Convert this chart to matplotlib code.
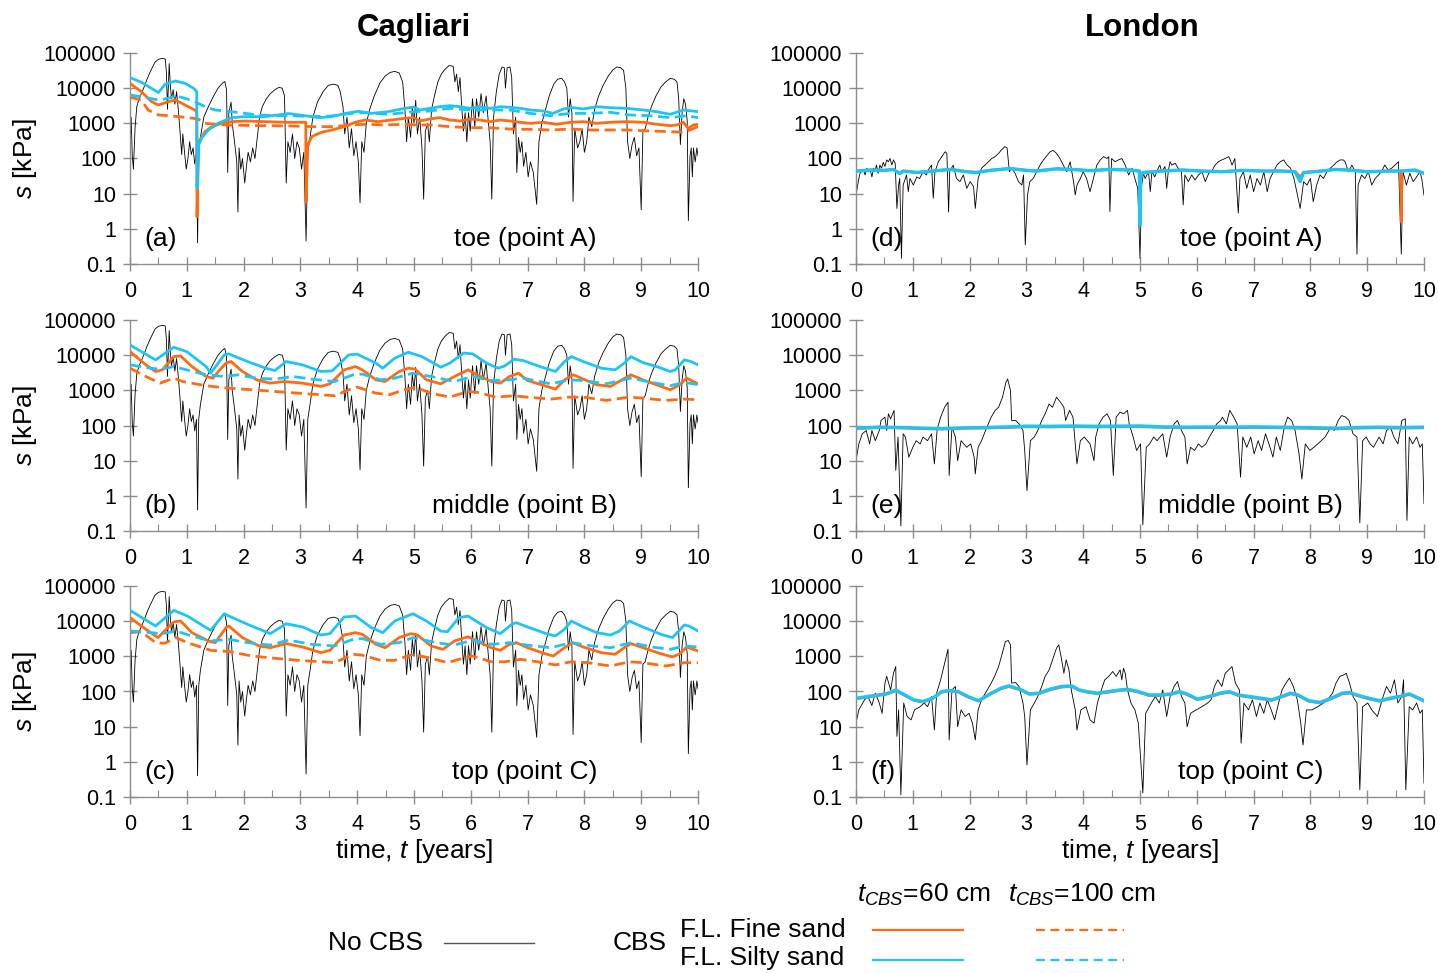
import numpy as np
import matplotlib
matplotlib.use('Agg')
import matplotlib.pyplot as plt
from matplotlib.lines import Line2D
from matplotlib.ticker import LogLocator, NullFormatter

plt.rcParams['font.family'] = ['Liberation Sans', 'DejaVu Sans']
plt.rcParams['mathtext.fontset'] = 'custom'
plt.rcParams['mathtext.it'] = 'Liberation Sans:italic'
plt.rcParams['mathtext.rm'] = 'Liberation Sans'

## ---------------- data (t [years], s [kPa])

# Cagliari, no CBS (same trace in a, b, c)
cag_nocbs = [
    (0.00, 100), (0.02, 1500), (0.04, 120), (0.06, 50), (0.09, 800), (0.12, 3000), (0.16, 5000),
    (0.20, 7000), (0.25, 11000), (0.30, 18000), (0.36, 30000), (0.44, 55000), (0.50, 66000),
    (0.56, 70000), (0.62, 68000), (0.64, 30000), (0.66, 2500), (0.68, 20000), (0.69, 50000),
    (0.71, 12000), (0.73, 5000), (0.76, 9000), (0.79, 3500), (0.82, 8000), (0.85, 2500),
    (0.88, 600), (0.91, 130), (0.93, 500), (0.96, 150), (0.99, 50), (1.02, 100), (1.05, 300),
    (1.08, 130), (1.11, 200), (1.14, 70), (1.17, 150), (1.19, 0.4), (1.21, 150), (1.24, 400),
    (1.30, 1500), (1.38, 3000), (1.46, 5500), (1.55, 10000), (1.63, 14000), (1.67, 15500),
    (1.70, 9000), (1.72, 40), (1.74, 2000), (1.78, 4000), (1.80, 1000), (1.84, 300), (1.88, 80),
    (1.90, 3), (1.92, 200), (1.95, 50), (1.98, 100), (2.02, 20), (2.05, 60), (2.08, 150),
    (2.12, 80), (2.16, 200), (2.20, 100), (2.24, 400), (2.28, 1500), (2.33, 3000), (2.40, 5000),
    (2.47, 7000), (2.55, 9000), (2.62, 10500), (2.68, 10000), (2.72, 6000), (2.75, 20),
    (2.78, 300), (2.82, 150), (2.86, 500), (2.90, 100), (2.94, 300), (2.98, 200), (3.02, 50),
    (3.06, 150), (3.10, 0.45), (3.13, 150), (3.17, 400), (3.22, 1500), (3.30, 4000),
    (3.40, 8000), (3.49, 12000), (3.58, 13000), (3.66, 12000), (3.70, 8000), (3.75, 3000),
    (3.78, 500), (3.82, 1500), (3.86, 200), (3.90, 700), (3.94, 120), (3.98, 300), (4.02, 80),
    (4.05, 5.5), (4.08, 300), (4.12, 150), (4.16, 1000), (4.22, 2500), (4.30, 6000),
    (4.40, 14000), (4.49, 22000), (4.58, 28000), (4.66, 30000), (4.74, 27000), (4.80, 15000),
    (4.84, 2500), (4.87, 300), (4.90, 1500), (4.94, 400), (4.97, 3000), (5.00, 1000),
    (5.03, 4500), (5.06, 500), (5.10, 1500), (5.14, 200), (5.17, 7), (5.20, 600), (5.24, 1000),
    (5.27, 300), (5.31, 2500), (5.36, 6000), (5.42, 15000), (5.48, 25000), (5.55, 35000),
    (5.62, 44000), (5.69, 42000), (5.72, 15000), (5.75, 25000), (5.78, 8000), (5.81, 20000),
    (5.84, 3000), (5.87, 600), (5.90, 2000), (5.93, 300), (5.96, 2000), (5.99, 600),
    (6.03, 5000), (6.07, 800), (6.10, 5000), (6.14, 1500), (6.18, 7000), (6.22, 2000),
    (6.27, 6000), (6.31, 1000), (6.34, 300), (6.37, 7), (6.40, 1500), (6.45, 8000),
    (6.50, 25000), (6.55, 40000), (6.59, 38000), (6.61, 10000), (6.64, 38000), (6.69, 40000),
    (6.72, 20000), (6.75, 500), (6.79, 1500), (6.81, 40), (6.84, 400), (6.87, 150), (6.90, 300),
    (6.93, 60), (6.97, 150), (7.01, 30), (7.05, 80), (7.10, 40), (7.16, 5), (7.20, 300),
    (7.25, 1000), (7.30, 2000), (7.38, 6000), (7.46, 13000), (7.53, 18000), (7.60, 19000),
    (7.65, 15000), (7.69, 10000), (7.72, 1500), (7.75, 5000), (7.78, 2000), (7.80, 6),
    (7.83, 700), (7.88, 200), (7.92, 300), (7.96, 700), (8.00, 150), (8.04, 300), (8.08, 1500),
    (8.13, 800), (8.18, 2500), (8.25, 6000), (8.33, 12000), (8.42, 22000), (8.50, 33000),
    (8.57, 40000), (8.64, 38000), (8.69, 32000), (8.73, 10000), (8.76, 300), (8.80, 100),
    (8.84, 250), (8.88, 400), (8.92, 120), (8.96, 200), (9.00, 3.5), (9.03, 600), (9.07, 700),
    (9.12, 1500), (9.18, 3000), (9.26, 6000), (9.35, 11000), (9.43, 15000), (9.51, 19000),
    (9.58, 18000), (9.63, 15000), (9.66, 5000), (9.69, 250), (9.72, 2000), (9.75, 5000),
    (9.78, 3500), (9.81, 1200), (9.83, 1.7), (9.86, 120), (9.88, 200), (9.90, 30), (9.92, 200),
    (9.95, 80), (9.98, 200), (10.00, 120)]

# (a) Cagliari toe
a_fine60 = [(0, 13700), (0.2, 7950), (0.38, 4130), (0.5, 3320), (0.67, 4130), (0.8, 4600),
            (0.97, 3320), (1.14, 2390), (1.175, 2150), (1.18, 2.2), (1.21, 300), (1.32, 580),
            (1.44, 800), (1.61, 1000), (1.79, 1115), (2.02, 1165), (2.38, 1115), (2.73, 1070),
            (3.095, 1070), (3.10, 5.9), (3.13, 240), (3.2, 420), (3.37, 555), (3.55, 645),
            (3.78, 805), (3.96, 1070), (4.14, 1245), (4.37, 1115), (4.6, 1245), (4.84, 1390),
            (5.0, 1450), (5.1, 1165), (5.28, 1330), (5.45, 1450), (5.63, 1245), (5.81, 1165),
            (5.99, 1330), (6.16, 1245), (6.34, 1115), (6.52, 1245), (6.69, 1165), (6.87, 1070),
            (7.05, 1000), (7.28, 1070), (7.51, 940), (7.75, 1070), (7.98, 1115), (8.22, 1000),
            (8.45, 1070), (8.74, 1115), (9.04, 1070), (9.27, 940), (9.51, 860), (9.63, 900),
            (9.74, 1070), (9.83, 720), (9.92, 900), (10, 940)]
a_fine100 = [(0, 5500), (0.2, 4600), (0.32, 2390), (0.5, 1730), (0.67, 1650), (0.85, 1550),
             (1.03, 1450), (1.2, 1330), (1.32, 1000), (1.67, 900), (2.26, 860), (2.85, 840),
             (3.2, 805), (3.55, 805), (3.9, 900), (4.14, 940), (4.49, 900), (4.84, 940),
             (5.0, 900), (5.28, 900), (5.63, 805), (5.99, 750), (6.34, 750), (6.69, 690),
             (7.05, 675), (7.4, 645), (7.75, 690), (8.1, 645), (8.45, 645), (8.8, 645),
             (9.16, 605), (9.51, 580), (9.74, 555), (9.86, 645), (10, 805)]
a_silty60 = [(0, 20000), (0.2, 14700), (0.35, 10500), (0.5, 7500), (0.62, 13000), (0.8, 16000),
             (0.97, 13700), (1.12, 9900), (1.175, 8000), (1.18, 14), (1.21, 240), (1.26, 380),
             (1.38, 650), (1.55, 1000), (1.79, 1450), (2.02, 1550), (2.38, 1550), (2.79, 1900),
             (3.08, 1650), (3.32, 1450), (3.55, 1550), (3.78, 1900), (4.02, 2200), (4.25, 1920),
             (4.55, 2150), (4.84, 2670), (5.0, 2900), (5.1, 2390), (5.28, 2670), (5.45, 2970),
             (5.63, 3180), (5.81, 2970), (5.99, 2670), (6.16, 2970), (6.34, 2670), (6.52, 2970),
             (6.69, 2850), (6.87, 2670), (7.05, 2390), (7.28, 2240), (7.45, 1920), (7.63, 2560),
             (7.8, 2790), (7.98, 2560), (8.22, 2970), (8.45, 2790), (8.74, 2670), (9.04, 2390),
             (9.27, 2150), (9.51, 1800), (9.74, 2390), (10, 2150)]
a_silty100 = [(0, 6400), (0.2, 5700), (0.5, 4600), (0.67, 5150), (0.8, 6000), (0.97, 5150),
              (1.14, 4130), (1.32, 2980), (1.5, 2390), (1.79, 2150), (2.02, 1920), (2.26, 1730),
              (2.55, 1650), (2.85, 1650), (3.2, 1550), (3.55, 1620), (3.9, 1920), (4.14, 2010),
              (4.55, 1800), (5.0, 2150), (5.28, 2240), (5.63, 2670), (5.99, 2390), (6.34, 2390),
              (6.69, 2390), (7.05, 1920), (7.4, 1650), (7.75, 1920), (8.1, 1920), (8.45, 2060),
              (8.8, 1730), (9.15, 1650), (9.51, 1450), (9.8, 1650), (10, 1450)]

# (b) Cagliari middle
b_fine60 = [(0, 12600), (0.28, 5290), (0.45, 3430), (0.57, 3820), (0.77, 9100), (0.89, 9500),
            (1.09, 4750), (1.34, 2470), (1.46, 2220), (1.58, 3820), (1.7, 6160), (1.78, 6580),
            (1.98, 3430), (2.23, 1990), (2.47, 1600), (2.71, 1780), (3.04, 1600), (3.36, 1290),
            (3.52, 1530), (3.77, 3820), (3.97, 4750), (4.09, 3820), (4.33, 1990), (4.49, 1780),
            (4.74, 3430), (4.9, 4260), (5.02, 3990), (5.22, 1990), (5.47, 1530), (5.71, 2470),
            (5.95, 3820), (6.11, 2760), (6.36, 1780), (6.52, 1600), (6.68, 2470), (6.84, 3070),
            (7.0, 1900), (7.25, 1440), (7.49, 1080), (7.65, 1990), (7.81, 2760), (7.98, 2080),
            (8.22, 1440), (8.46, 1290), (8.66, 1990), (8.82, 2760), (9.03, 1990), (9.27, 1440),
            (9.51, 1035), (9.68, 1440), (9.8, 2220), (10, 1530)]
b_fine100 = [(0, 4260), (0.28, 2470), (0.53, 1600), (0.77, 2220), (0.93, 1780), (1.34, 1350),
             (1.74, 1150), (2.15, 1035), (2.55, 930), (2.96, 830), (3.36, 750), (3.6, 700),
             (3.85, 1035), (4.0, 1230), (4.33, 830), (4.57, 750), (4.82, 1035), (5.02, 1230),
             (5.3, 830), (5.63, 640), (5.95, 930), (6.11, 880), (6.44, 640), (6.76, 700),
             (7.0, 640), (7.41, 563), (7.73, 640), (7.98, 640), (8.38, 517), (8.79, 640),
             (9.03, 600), (9.43, 517), (9.76, 563), (10, 540)]
b_silty60 = [(0, 19500), (0.45, 7340), (0.77, 16800), (1.0, 12600), (1.34, 4750), (1.42, 3070),
             (1.66, 10200), (1.74, 10900), (2.07, 6580), (2.39, 4260), (2.55, 3660), (2.75, 6580),
             (3.04, 5290), (3.36, 3430), (3.56, 3580), (3.85, 10200), (4.0, 10700), (4.33, 5910),
             (4.45, 4260), (4.66, 8190), (4.9, 12100), (5.14, 9100), (5.47, 4550), (5.63, 5910),
             (5.87, 11500), (6.03, 10900), (6.28, 5910), (6.48, 4260), (6.6, 4960), (6.76, 7670),
             (6.92, 7030), (7.25, 4550), (7.49, 3430), (7.65, 6580), (7.77, 9100), (7.98, 6580),
             (8.3, 4260), (8.54, 3820), (8.7, 5910), (8.82, 9100), (9.03, 6160), (9.27, 4750),
             (9.51, 3430), (9.6, 3820), (9.76, 7340), (9.88, 6580), (10, 5290)]
b_silty100 = [(0, 5290), (0.36, 4260), (0.53, 3990), (0.77, 4750), (1.0, 3820), (1.34, 2760),
              (1.66, 2470), (1.9, 2760), (2.23, 2220), (2.55, 2080), (2.87, 2470), (3.2, 2080),
              (3.6, 1780), (3.93, 2760), (4.09, 2900), (4.41, 1990), (4.66, 2220), (4.98, 3070),
              (5.3, 2470), (5.71, 1780), (6.03, 2470), (6.36, 1900), (6.68, 1990), (6.92, 2220),
              (7.41, 1530), (7.73, 1990), (7.98, 1900), (8.38, 1530), (8.82, 2220), (9.11, 1780),
              (9.51, 1350), (9.76, 1700), (10, 1440)]

# (c) Cagliari top
c_fine60 = [(0, 12600), (0.28, 5860), (0.49, 3400), (0.77, 9500), (0.89, 10100), (1.09, 4710),
            (1.38, 2730), (1.5, 2450), (1.7, 6820), (1.74, 7290), (1.98, 3400), (2.27, 1970),
            (2.47, 1760), (2.75, 2300), (3.04, 1840), (3.36, 1270), (3.52, 1480), (3.77, 4040),
            (3.97, 4710), (4.09, 4220), (4.33, 2190), (4.49, 1760), (4.74, 3400), (4.94, 4410),
            (5.06, 4040), (5.3, 1970), (5.51, 1580), (5.71, 2730), (5.95, 3600), (6.11, 2730),
            (6.36, 1760), (6.52, 1480), (6.68, 2190), (6.8, 2450), (7.0, 1760), (7.25, 1270),
            (7.45, 1020), (7.65, 1760), (7.79, 2450), (7.98, 1840), (8.3, 1270), (8.54, 1140),
            (8.7, 1760), (8.82, 2300), (9.03, 1760), (9.35, 1180), (9.55, 960), (9.68, 1180),
            (9.8, 1840), (10, 1420)]
c_fine100 = [(0, 4710), (0.2, 5000), (0.45, 2450), (0.61, 2350), (0.81, 3400), (1.01, 2450),
             (1.42, 1480), (1.74, 1370), (2.15, 1020), (2.55, 880), (2.96, 770), (3.36, 700),
             (3.6, 660), (3.93, 1140), (4.09, 1080), (4.41, 770), (4.66, 770), (4.98, 1140),
             (5.3, 880), (5.59, 660), (5.79, 820), (6.03, 1020), (6.36, 700), (6.6, 700),
             (6.88, 820), (7.17, 700), (7.49, 570), (7.77, 700), (8.06, 660), (8.46, 530),
             (8.79, 700), (9.03, 660), (9.43, 530), (9.76, 660), (10, 660)]
c_silty60 = [(0, 20300), (0.45, 7290), (0.77, 20300), (1.01, 14000), (1.42, 5480), (1.66, 16300),
             (1.74, 14000), (2.07, 8130), (2.47, 4410), (2.75, 8490), (3.04, 6820), (3.36, 4040),
             (3.52, 4410), (3.77, 13100), (3.97, 14000), (4.25, 6530), (4.45, 4710), (4.66, 10100),
             (4.98, 16300), (5.22, 10100), (5.47, 5250), (5.59, 5030), (5.79, 12600), (5.95, 14000),
             (6.28, 6530), (6.52, 4410), (6.72, 8130), (6.8, 9060), (7.0, 6820), (7.33, 4410),
             (7.49, 3790), (7.65, 5860), (7.77, 10100), (7.98, 6820), (8.22, 4710), (8.46, 4040),
             (8.62, 5250), (8.79, 10100), (9.03, 6820), (9.35, 4220), (9.55, 3400), (9.76, 7780),
             (9.84, 7290), (10, 5250)]
c_silty100 = [(0, 5250), (0.36, 4710), (0.57, 4410), (0.81, 5250), (1.09, 3790), (1.42, 2730),
              (1.74, 3040), (2.07, 2450), (2.47, 2080), (2.79, 2900), (3.2, 2190), (3.6, 1970),
              (3.93, 3040), (4.09, 3200), (4.41, 2190), (4.74, 2450), (4.98, 3400), (5.39, 2450),
              (5.71, 2080), (6.03, 2900), (6.36, 2190), (6.68, 2450), (7.0, 2080), (7.41, 1760),
              (7.77, 2450), (8.14, 1970), (8.46, 1760), (8.82, 2450), (9.19, 1840), (9.51, 1580),
              (9.76, 1970), (10, 1840)]

# (d) London toe
d_nocbs = [
    (0.00, 9.2), (0.04, 22), (0.07, 38), (0.13, 47), (0.16, 34), (0.19, 53), (0.22, 42), (0.25, 47),
    (0.28, 30), (0.31, 53), (0.33, 42), (0.36, 65), (0.39, 38), (0.42, 65), (0.45, 53), (0.48, 78),
    (0.51, 59), (0.54, 91), (0.57, 81), (0.60, 100), (0.63, 65), (0.66, 91), (0.69, 73), (0.72, 3.8),
    (0.75, 17.6), (0.77, 27), (0.80, 0.145), (0.83, 17.6), (0.89, 34), (0.92, 11.4), (0.95, 27),
    (1.01, 17.6), (1.07, 30), (1.12, 27), (1.18, 42), (1.24, 34), (1.27, 47), (1.33, 65), (1.36, 7.4),
    (1.39, 42), (1.45, 81), (1.51, 113), (1.57, 156), (1.60, 140), (1.63, 3.0), (1.65, 42),
    (1.71, 65), (1.77, 27), (1.83, 22), (1.89, 34), (1.95, 14.2), (2.01, 22), (2.07, 15.8),
    (2.10, 3.8), (2.15, 27), (2.21, 53), (2.27, 65), (2.33, 81), (2.39, 100), (2.45, 113),
    (2.51, 140), (2.56, 175), (2.62, 217), (2.66, 200), (2.70, 42), (2.74, 53), (2.80, 38),
    (2.86, 22), (2.92, 17.6), (2.95, 34), (2.98, 0.35), (3.02, 9.2), (3.06, 22), (3.12, 27),
    (3.18, 42), (3.24, 65), (3.30, 91), (3.36, 120), (3.42, 156), (3.47, 170), (3.53, 140),
    (3.59, 100), (3.65, 65), (3.71, 42), (3.77, 81), (3.83, 22), (3.86, 9.2), (3.89, 17.6),
    (3.95, 27), (4.00, 42), (4.06, 27), (4.12, 11.4), (4.18, 27), (4.24, 65), (4.30, 91),
    (4.36, 113), (4.42, 100), (4.45, 113), (4.47, 3.1), (4.50, 100), (4.56, 81), (4.62, 91),
    (4.68, 100), (4.74, 65), (4.80, 34), (4.86, 53), (4.91, 27), (4.96, 14.2), (5.00, 0.145),
    (5.03, 17.6), (5.06, 38), (5.09, 27), (5.15, 42), (5.18, 11.4), (5.21, 42), (5.26, 30),
    (5.32, 53), (5.35, 65), (5.38, 42), (5.44, 59), (5.47, 14.2), (5.50, 47), (5.53, 81),
    (5.56, 65), (5.62, 73), (5.67, 53), (5.73, 42), (5.76, 4.8), (5.79, 34), (5.85, 22),
    (5.91, 34), (5.97, 24.5), (6.03, 34), (6.09, 42), (6.15, 22), (6.21, 38), (6.26, 42),
    (6.32, 65), (6.38, 81), (6.44, 91), (6.50, 100), (6.56, 113), (6.58, 100), (6.62, 65),
    (6.67, 100), (6.73, 2.8), (6.76, 27), (6.82, 42), (6.88, 14.2), (6.94, 34), (7.00, 11.4),
    (7.06, 27), (7.12, 17.6), (7.18, 42), (7.24, 11.4), (7.29, 27), (7.35, 42), (7.41, 65),
    (7.47, 81), (7.53, 91), (7.59, 65), (7.65, 53), (7.71, 27), (7.76, 11.4), (7.82, 3.8),
    (7.88, 22), (7.94, 17.6), (8.00, 27), (8.05, 5.9), (8.11, 17.6), (8.17, 34), (8.23, 27),
    (8.29, 42), (8.35, 53), (8.41, 65), (8.46, 78), (8.52, 91), (8.58, 91), (8.61, 81),
    (8.67, 42), (8.73, 65), (8.79, 42), (8.82, 0.19), (8.84, 17.6), (8.90, 34), (8.96, 27),
    (9.02, 42), (9.08, 17.6), (9.14, 27), (9.20, 34), (9.25, 42), (9.31, 65), (9.37, 47),
    (9.43, 53), (9.49, 65), (9.55, 81), (9.60, 0.19), (9.63, 42), (9.69, 17.6), (9.75, 38),
    (9.81, 22), (9.87, 30), (9.93, 42), (9.96, 27), (10.00, 9)]
d_fine = [(0, 44), (0.25, 47), (0.5, 46), (0.66, 49), (0.77, 37), (0.83, 44), (1.07, 40),
          (1.36, 44), (1.66, 49), (1.95, 42), (2.12, 40), (2.36, 46), (2.71, 52), (3.0, 46),
          (3.18, 44), (3.53, 51), (3.88, 48), (4.12, 45), (4.47, 49), (4.82, 47), (4.99, 44),
          (5.0, 30), (5.05, 40), (5.38, 44), (5.74, 47), (6.09, 44), (6.44, 42), (6.79, 46),
          (7.14, 44), (7.49, 44), (7.73, 42), (7.82, 30), (7.88, 40), (8.2, 44), (8.43, 49),
          (8.67, 47), (9.02, 42), (9.37, 44), (9.59, 44), (9.6, 1.6), (9.61, 44), (9.84, 47),
          (10, 38)]
d_silty = [(0, 44), (0.25, 47), (0.5, 46), (0.66, 49), (0.77, 37), (0.83, 44), (1.07, 40),
           (1.36, 44), (1.66, 49), (1.95, 42), (2.12, 40), (2.36, 46), (2.71, 52), (3.0, 46),
           (3.18, 44), (3.53, 51), (3.88, 48), (4.12, 45), (4.47, 49), (4.82, 47), (4.99, 44),
           (5.0, 1.3), (5.01, 30), (5.05, 40), (5.38, 44), (5.74, 47), (6.09, 44), (6.44, 42),
           (6.79, 46), (7.14, 44), (7.49, 44), (7.73, 42), (7.82, 22), (7.88, 40), (8.2, 44),
           (8.43, 49), (8.67, 47), (9.02, 42), (9.37, 44), (9.61, 44), (9.84, 47), (10, 38)]

# (e) London middle
e_nocbs = [
    (0.00, 10), (0.05, 30), (0.11, 58), (0.18, 72), (0.24, 30), (0.28, 72), (0.34, 37), (0.41, 72),
    (0.44, 139), (0.51, 173), (0.54, 72), (0.57, 215), (0.61, 155), (0.67, 270), (0.70, 5.3),
    (0.74, 47), (0.79, 0.14), (0.83, 58), (0.87, 47), (0.93, 12.6), (1.00, 24), (1.06, 37),
    (1.13, 30), (1.18, 47), (1.26, 37), (1.33, 58), (1.38, 8.1), (1.43, 80), (1.49, 173),
    (1.56, 330), (1.62, 460), (1.64, 3.8), (1.69, 90), (1.75, 47), (1.79, 10), (1.85, 37),
    (1.95, 24), (2.02, 30), (2.08, 12.6), (2.10, 4.2), (2.15, 24), (2.21, 37), (2.28, 72),
    (2.38, 173), (2.45, 270), (2.51, 330), (2.58, 640), (2.64, 1700), (2.67, 2100), (2.72, 990),
    (2.74, 139), (2.81, 139), (2.87, 111), (2.94, 72), (2.97, 19.5), (3.01, 1.4), (3.07, 37),
    (3.14, 47), (3.20, 72), (3.27, 139), (3.33, 215), (3.40, 410), (3.46, 330), (3.53, 640),
    (3.60, 460), (3.66, 330), (3.69, 139), (3.76, 270), (3.82, 173), (3.86, 30), (3.89, 8.1),
    (3.95, 37), (4.02, 47), (4.12, 30), (4.19, 10), (4.22, 47), (4.28, 111), (4.35, 173),
    (4.42, 215), (4.48, 139), (4.53, 3.8), (4.58, 173), (4.65, 240), (4.71, 215), (4.78, 270),
    (4.81, 111), (4.88, 47), (4.94, 19.5), (5.01, 30), (5.05, 0.15), (5.11, 24), (5.17, 30),
    (5.24, 47), (5.30, 37), (5.40, 58), (5.47, 12.6), (5.53, 47), (5.60, 111), (5.66, 139),
    (5.73, 72), (5.79, 47), (5.83, 8.1), (5.89, 24), (5.96, 19.5), (6.03, 30), (6.09, 24),
    (6.16, 30), (6.22, 47), (6.29, 72), (6.35, 111), (6.42, 139), (6.45, 173), (6.52, 111),
    (6.58, 270), (6.65, 173), (6.71, 111), (6.77, 3.4), (6.81, 47), (6.88, 24), (6.95, 47),
    (7.01, 15.6), (7.08, 37), (7.14, 19.5), (7.21, 58), (7.27, 30), (7.34, 12.6), (7.40, 47),
    (7.47, 19.5), (7.54, 90), (7.60, 173), (7.67, 139), (7.73, 72), (7.80, 15.6), (7.85, 3.0),
    (7.91, 30), (7.99, 19.5), (8.06, 24), (8.13, 30), (8.19, 37), (8.26, 47), (8.36, 90),
    (8.42, 72), (8.49, 139), (8.55, 192), (8.62, 173), (8.68, 139), (8.75, 58), (8.82, 47),
    (8.87, 0.17), (8.92, 37), (8.98, 47), (9.05, 30), (9.11, 24), (9.21, 47), (9.28, 30),
    (9.34, 72), (9.41, 90), (9.47, 47), (9.54, 30), (9.61, 139), (9.67, 155), (9.70, 0.2),
    (9.74, 47), (9.80, 30), (9.87, 47), (9.93, 24), (9.97, 30), (10.00, 0.6)]
e_fine = [(0, 82), (0.4, 86), (0.8, 85), (1.2, 81), (1.5, 79), (1.9, 83), (2.3, 85), (2.7, 88),
          (3.0, 92), (3.4, 91), (3.8, 93), (4.2, 91), (4.6, 92), (5.0, 93), (5.4, 88), (5.8, 86),
          (6.2, 87), (6.6, 86), (7.0, 88), (7.4, 86), (7.8, 84), (8.2, 82), (8.5, 80), (8.8, 84),
          (9.2, 86), (9.6, 84), (10, 86)]
e_silty = [(0, 85), (0.4, 90), (0.8, 88), (1.2, 84), (1.5, 82), (1.9, 86), (2.3, 88), (2.7, 92),
           (3.0, 96), (3.4, 95), (3.8, 97), (4.2, 95), (4.6, 96), (5.0, 97), (5.4, 92), (5.8, 90),
           (6.2, 91), (6.6, 90), (7.0, 92), (7.4, 90), (7.8, 88), (8.2, 86), (8.5, 84), (8.8, 88),
           (9.2, 90), (9.6, 88), (10, 90)]

# (f) London top
f_nocbs = [
    (0.00, 12.6), (0.05, 30), (0.15, 58), (0.21, 72), (0.28, 40), (0.34, 90), (0.41, 47), (0.46, 24),
    (0.51, 173), (0.54, 270), (0.61, 111), (0.66, 330), (0.70, 515), (0.72, 5.3), (0.75, 30),
    (0.79, 0.115), (0.84, 47), (0.90, 19.5), (0.97, 15.6), (1.03, 30), (1.13, 37), (1.20, 47),
    (1.26, 37), (1.33, 72), (1.38, 8.1), (1.42, 90), (1.49, 215), (1.56, 640), (1.62, 1600),
    (1.64, 4.2), (1.69, 111), (1.75, 139), (1.79, 10), (1.85, 30), (1.92, 19.5), (1.99, 24),
    (2.05, 12.6), (2.10, 4.2), (2.15, 30), (2.21, 58), (2.31, 111), (2.38, 173), (2.44, 270),
    (2.51, 510), (2.56, 990), (2.63, 2640), (2.68, 2820), (2.72, 2120), (2.74, 173), (2.81, 180),
    (2.87, 139), (2.94, 47), (2.97, 19.5), (3.01, 0.82), (3.07, 30), (3.14, 47), (3.20, 72),
    (3.27, 139), (3.33, 270), (3.40, 410), (3.46, 795), (3.53, 1710), (3.57, 2120), (3.61, 990),
    (3.66, 330), (3.70, 795), (3.75, 410), (3.79, 111), (3.86, 30), (3.89, 8.1), (3.96, 30),
    (4.05, 37), (4.12, 15.6), (4.19, 12.6), (4.25, 47), (4.32, 111), (4.38, 215), (4.45, 270),
    (4.52, 370), (4.58, 270), (4.65, 410), (4.68, 215), (4.71, 460), (4.74, 330), (4.78, 111),
    (4.84, 47), (4.91, 30), (4.97, 12.6), (5.05, 0.13), (5.10, 24), (5.20, 47), (5.27, 72),
    (5.34, 47), (5.40, 111), (5.47, 19.5), (5.53, 72), (5.60, 139), (5.66, 192), (5.73, 72),
    (5.79, 47), (5.83, 10), (5.89, 24), (5.99, 30), (6.09, 37), (6.19, 47), (6.25, 58),
    (6.31, 139), (6.37, 215), (6.44, 139), (6.50, 330), (6.62, 510), (6.68, 173), (6.75, 111),
    (6.78, 3.4), (6.83, 47), (6.91, 30), (6.98, 58), (7.05, 19.5), (7.11, 47), (7.18, 24),
    (7.24, 58), (7.31, 30), (7.37, 15.6), (7.44, 47), (7.50, 111), (7.57, 173), (7.63, 240),
    (7.70, 139), (7.77, 58), (7.83, 12.6), (7.87, 3.0), (7.93, 30), (8.03, 30), (8.13, 37),
    (8.23, 47), (8.30, 58), (8.39, 90), (8.45, 173), (8.52, 270), (8.59, 298), (8.63, 330),
    (8.69, 173), (8.75, 72), (8.82, 47), (8.87, 0.16), (8.92, 37), (9.01, 47), (9.08, 30),
    (9.18, 19.5), (9.28, 72), (9.34, 139), (9.41, 90), (9.48, 215), (9.54, 47), (9.61, 72),
    (9.64, 215), (9.68, 0.16), (9.74, 37), (9.80, 30), (9.87, 47), (9.93, 24), (9.97, 30),
    (10.00, 0.25)]
f_fine = [(0, 62), (0.27, 72), (0.53, 83), (0.7, 105), (0.86, 77), (1.02, 56), (1.18, 50),
          (1.35, 63), (1.51, 96), (1.64, 103), (1.8, 96), (1.97, 70), (2.16, 53), (2.36, 83),
          (2.55, 119), (2.69, 139), (2.89, 111), (3.05, 83), (3.22, 86), (3.41, 111), (3.61, 133),
          (3.8, 139), (3.93, 107), (4.06, 96), (4.25, 86), (4.45, 96), (4.65, 107), (4.78, 111),
          (4.97, 96), (5.16, 77), (5.36, 77), (5.56, 83), (5.69, 96), (5.82, 83), (6.01, 58),
          (6.21, 69), (6.41, 86), (6.57, 96), (6.73, 77), (6.93, 69), (7.12, 62), (7.32, 56),
          (7.52, 72), (7.65, 86), (7.78, 77), (7.97, 53), (8.17, 47), (8.37, 62), (8.56, 86),
          (8.69, 90), (8.82, 77), (9.02, 62), (9.22, 53), (9.41, 62), (9.61, 72), (9.74, 83),
          (10, 53)]
f_silty = [(0, 64), (0.27, 75), (0.53, 86), (0.7, 110), (0.86, 80), (1.02, 58), (1.18, 52),
           (1.35, 65), (1.51, 100), (1.64, 107), (1.8, 100), (1.97, 72), (2.16, 55), (2.36, 86),
           (2.55, 124), (2.69, 145), (2.89, 116), (3.05, 86), (3.22, 90), (3.41, 116), (3.61, 139),
           (3.8, 145), (3.93, 111), (4.06, 100), (4.25, 90), (4.45, 100), (4.65, 111), (4.78, 116),
           (4.97, 100), (5.16, 80), (5.36, 80), (5.56, 86), (5.69, 100), (5.82, 86), (6.01, 61),
           (6.21, 72), (6.41, 90), (6.57, 100), (6.73, 80), (6.93, 72), (7.12, 65), (7.32, 58),
           (7.52, 75), (7.65, 90), (7.78, 80), (7.97, 55), (8.17, 49), (8.37, 65), (8.56, 90),
           (8.69, 94), (8.82, 80), (9.02, 65), (9.22, 55), (9.41, 65), (9.61, 75), (9.74, 86),
           (10, 55)]

panel_tags = ['(a)', '(b)', '(c)', '(d)', '(e)', '(f)']
point_names = ['toe (point A)', 'middle (point B)', 'top (point C)']
y_ticks = [0.1, 1, 10, 100, 1000, 10000, 100000]
y_ticklabels = ['0.1', '1', '10', '100', '1000', '10000', '100000']

orange = '#FF6A13'
cyan = '#1EC4F2'
grey = '#8C8C8C'

## ---------------- plot

W, H = 1438, 973
fig = plt.figure(figsize=(W / 100, H / 100), dpi=100)

lefts = [130, 856]
tops = [53, 320, 586]
ax_w, ax_h = 568, 211

panels = [
    (cag_nocbs, a_fine100, a_fine60, a_silty100, a_silty60),
    (cag_nocbs, b_fine100, b_fine60, b_silty100, b_silty60),
    (cag_nocbs, c_fine100, c_fine60, c_silty100, c_silty60),
    (d_nocbs, None, d_fine, None, d_silty),
    (e_nocbs, None, e_fine, None, e_silty),
    (f_nocbs, None, f_fine, None, f_silty),
]

for k, (black, fine100, fine60, silty100, silty60) in enumerate(panels):
    col = k // 3
    row = k % 3
    ax = fig.add_axes([lefts[col] / W, 1 - (tops[row] + ax_h) / H, ax_w / W, ax_h / H])
    ax.set_yscale('log')

    t, s = zip(*black)
    ax.plot(t, s, color='k', lw=0.6, zorder=2)
    if fine100 is not None:
        t, s = zip(*fine100)
        ax.plot(t, s, color=orange, lw=2.0, ls=(0, (4, 2)), zorder=3)
    t, s = zip(*fine60)
    ax.plot(t, s, color=orange, lw=2.0, zorder=3)
    if silty100 is not None:
        t, s = zip(*silty100)
        ax.plot(t, s, color=cyan, lw=2.0, ls=(0, (4, 2)), zorder=4)
    t, s = zip(*silty60)
    ax.plot(t, s, color=cyan, lw=2.4 if col == 1 else 2.0, zorder=4)

    ax.set_xlim(0, 10)
    ax.set_ylim(0.1, 100000)
    ax.set_yticks(y_ticks)
    ax.set_yticklabels(y_ticklabels)
    ax.yaxis.set_minor_locator(LogLocator(base=10, subs=np.arange(2, 10)))
    ax.yaxis.set_minor_formatter(NullFormatter())
    ax.set_xticks(range(11))
    ax.set_xticks(np.arange(0.5, 10, 1), minor=True)

    for side in ['top', 'right']:
        ax.spines[side].set_visible(False)
    for side in ['left', 'bottom']:
        ax.spines[side].set_color(grey)
        ax.spines[side].set_linewidth(1.0)

    ax.tick_params(axis='y', which='major', direction='inout', length=10, width=1,
                   color=grey, labelsize=15.5, pad=5)
    ax.tick_params(axis='y', which='minor', direction='in', length=5, width=0.8, color=grey)
    ax.tick_params(axis='x', which='major', direction='inout', length=10, width=1,
                   color=grey, labelsize=15.5, pad=7)
    ax.tick_params(axis='x', which='minor', direction='in', length=5, width=0.8, color=grey)
    ax.patch.set_alpha(0)

    ax.text(0.025, 0.12, panel_tags[k], transform=ax.transAxes, fontsize=19,
            ha='left', va='center')
    ax.text(0.695, 0.12, point_names[row], transform=ax.transAxes, fontsize=19,
            ha='center', va='center')

    if col == 0:
        fig.text(25 / W, 1 - (tops[row] + ax_h / 2) / H, r'$s$ [kPa]', rotation=90,
                 fontsize=19, ha='center', va='center')
    if row == 2:
        fig.text((lefts[col] + ax_w / 2) / W, 1 - 851 / H, r'time, $t$ [years]',
                 fontsize=19, ha='center', va='center')

fig.text(414 / W, 1 - 28 / H, 'Cagliari', fontsize=22.5, weight='bold', ha='center', va='center')
fig.text(1142 / W, 1 - 28 / H, 'London', fontsize=22.5, weight='bold', ha='center', va='center')

# legend
def fx(x):
    return x / W

def fy(y):
    return 1 - y / H

fig.text(fx(376), fy(943), 'No CBS', fontsize=19, ha='center', va='center')
fig.add_artist(Line2D([fx(444), fx(534)], [fy(943), fy(943)], color='#555555', lw=1.0))
fig.text(fx(640), fy(943), 'CBS', fontsize=19, ha='center', va='center')
fig.text(fx(680), fy(930), 'F.L. Fine sand', fontsize=19, ha='left', va='center')
fig.text(fx(680), fy(958), 'F.L. Silty sand', fontsize=19, ha='left', va='center')
fig.text(fx(857), fy(895), r'$t_{CBS}$=60 cm', fontsize=19, ha='left', va='center')
fig.text(fx(1008), fy(895), r'$t_{CBS}$=100 cm', fontsize=19, ha='left', va='center')
fig.add_artist(Line2D([fx(873), fx(963)], [fy(930), fy(930)], color=orange, lw=1.6))
fig.add_artist(Line2D([fx(1036), fx(1124)], [fy(930), fy(930)], color=orange, lw=1.6,
                      ls=(0, (4, 2.5))))
fig.add_artist(Line2D([fx(873), fx(963)], [fy(960), fy(960)], color=cyan, lw=1.6))
fig.add_artist(Line2D([fx(1036), fx(1124)], [fy(960), fy(960)], color=cyan, lw=1.6,
                      ls=(0, (4, 2.5))))

plt.savefig('out.png', dpi=100)
